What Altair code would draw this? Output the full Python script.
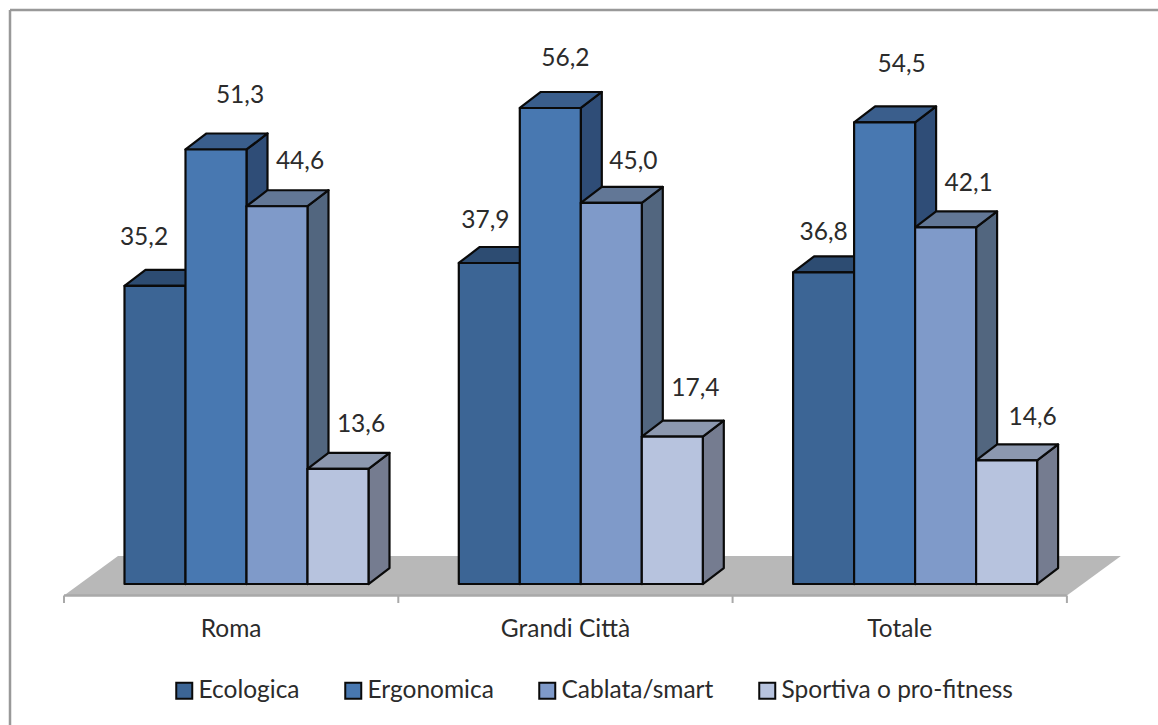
import altair as alt
import pandas as pd

# Survey shares by area, one list per bike type
categories = ["Roma", "Grandi Città", "Totale"]
series = ["Ecologica", "Ergonomica", "Cablata/smart", "Sportiva o pro-fitness"]
ecologica = [35.2, 37.9, 36.8]
ergonomica = [51.3, 56.2, 54.5]
cablata = [44.6, 45.0, 42.1]
sportiva = [13.6, 17.4, 14.6]
values = [ecologica, ergonomica, cablata, sportiva]

# Face colours for each series
front_colors = ["#3c6595", "#4878b1", "#7f9ac9", "#b7c3de"]
top_colors = ["#2d4c72", "#3a5e8c", "#627796", "#8c98af"]
side_colors = ["#2a4668", "#2f4d77", "#52667f", "#757c90"]

# Pixel scale of the drawing
PX_PER_GROUP = 334.3
PX_PER_UNIT = 8.47
LEFT_PX = 64.0
BASE_PX = 584.0
WIDTH = 1158
PLOT_H = 597

BAR_START = 60.5 / PX_PER_GROUP
BAR_W = 61.0 / PX_PER_GROUP
DEPTH_X = 21.0 / PX_PER_GROUP
DEPTH_Y = 16.0 / PX_PER_UNIT
FLOOR_FRONT = (BASE_PX - 595.5) / PX_PER_UNIT
FLOOR_BACK = (BASE_PX - 556.0) / PX_PER_UNIT
FLOOR_SHIFT = 54.0 / PX_PER_GROUP
TICK_END = (BASE_PX - 603.0) / PX_PER_UNIT
CATEGORY_ROW = (BASE_PX - 629.5) / PX_PER_UNIT

# Hand-placed data labels: offset from the bar's top centre, in pixels
label_dx = [[-11, -4, 0], [24, 15, 17], [23, 22, 23], [23, 23, 26]]
label_dy = [[-48, -42, -39], [-53, -49, -57], [-44, -41, -43], [-44, -48, -42]]

x_scale = alt.Scale(
    domain=[-LEFT_PX / PX_PER_GROUP, (WIDTH - LEFT_PX) / PX_PER_GROUP],
    range=[0, WIDTH], nice=False, zero=False,
)
y_scale = alt.Scale(
    domain=[(BASE_PX - PLOT_H) / PX_PER_UNIT, BASE_PX / PX_PER_UNIT],
    range=[PLOT_H, 0], nice=False, zero=False,
)
FONT = "Lato"
FONT_SIZE = 24.5
TEXT_COLOR = "#2b2b2b"
GRAY_LINE = "#a9a9a9"


def X(field, **kw):
    return alt.X(field, type="quantitative", scale=x_scale, axis=None, **kw)


def Y(field):
    return alt.Y(field, type="quantitative", scale=y_scale, axis=None, stack=None)


# Floor slab
floor = pd.DataFrame({
    "y": [FLOOR_FRONT, FLOOR_BACK],
    "x": [0, FLOOR_SHIFT],
    "x2": [3, 3 + FLOOR_SHIFT],
})
floor_layer = alt.Chart(floor).mark_area(orient="horizontal", color="#b8b8b8").encode(
    x=X("x"), x2="x2:Q", y=Y("y"),
)

# Axis line, ticks and category names
baseline_layer = alt.Chart(pd.DataFrame({"x": [0], "x2": [3], "y": [FLOOR_FRONT]})).mark_rule(
    color=GRAY_LINE, strokeWidth=2.5
).encode(x=X("x"), x2="x2:Q", y=Y("y"))
ticks_layer = alt.Chart(pd.DataFrame({"x": [0, 1, 2, 3], "a": FLOOR_FRONT, "b": TICK_END})).mark_rule(
    color=GRAY_LINE, strokeWidth=2
).encode(x=X("x"), y=Y("a"), y2="b:Q")
category_layer = alt.Chart(pd.DataFrame({
    "x": [0.5, 1.5, 2.5], "y": CATEGORY_ROW, "name": categories,
})).mark_text(
    font=FONT, fontSize=FONT_SIZE, color=TEXT_COLOR, align="center", baseline="middle"
).encode(x=X("x"), y=Y("y"), text="name:N")

# Bars are painted series by series so each front covers its left neighbour's side
bar_layers = []
color_scale = alt.Scale(domain=series, range=front_colors)
for s, name in enumerate(series):
    side_rows, top_rows, front_rows = [], [], []
    for g, cat in enumerate(categories):
        v = values[s][g]
        x0 = g + BAR_START + s * BAR_W
        x1 = x0 + BAR_W
        front_rows.append({"series": name, "x": x0, "x2": x1, "y": 0, "y2": v})
        for k in (0, 1):
            side_rows.append({"g": cat, "x": x1 + k * DEPTH_X, "y": v + k * DEPTH_Y, "y2": k * DEPTH_Y})
            top_rows.append({"g": cat, "y": v + k * DEPTH_Y, "x": x0 + k * DEPTH_X, "x2": x1 + k * DEPTH_X})
    edge = dict(stroke="#0a0a0a", strokeWidth=2.2, strokeJoin="round")
    bar_layers.append(
        alt.Chart(pd.DataFrame(side_rows)).mark_area(orient="vertical", fill=side_colors[s], **edge).encode(
            x=X("x"), y=Y("y"), y2="y2:Q", detail="g:N"
        )
    )
    bar_layers.append(
        alt.Chart(pd.DataFrame(top_rows)).mark_area(orient="horizontal", fill=top_colors[s], **edge).encode(
            x=X("x"), x2="x2:Q", y=Y("y"), detail="g:N"
        )
    )
    bar_layers.append(
        alt.Chart(pd.DataFrame(front_rows)).mark_rect(**edge).encode(
            x=X("x"), x2="x2:Q", y=Y("y"), y2="y2:Q",
            fill=alt.Fill("series:N", scale=color_scale, legend=alt.Legend(
                orient="none", legendX=172, legendY=678, direction="horizontal", columns=4,
                title=None, symbolType="square", symbolSize=256, symbolStrokeColor="#0a0a0a",
                symbolStrokeWidth=2, labelFont=FONT, labelFontSize=FONT_SIZE, labelColor=TEXT_COLOR,
                labelOffset=2, columnPadding=41, labelLimit=400,
            )),
        )
    )

# Value labels, in Italian decimal notation
label_rows = []
for s in range(len(series)):
    for g in range(len(categories)):
        v = values[s][g]
        label_rows.append({
            "text": f"{v:.1f}".replace(".", ","),
            "x": g + BAR_START + (s + 0.5) * BAR_W + label_dx[s][g] / PX_PER_GROUP,
            "y": v - label_dy[s][g] / PX_PER_UNIT,
        })
label_layer = alt.Chart(pd.DataFrame(label_rows)).mark_text(
    font=FONT, fontSize=FONT_SIZE, color=TEXT_COLOR, align="center", baseline="middle"
).encode(x=X("x"), y=Y("y"), text="text:N")

# Chart frame: grey rule along the top and left edges
frame_top = alt.Chart(pd.DataFrame({"a": [0]})).mark_rule(color="#999999", strokeWidth=2.5).encode(
    x=alt.value(10), x2=alt.value(WIDTH), y=alt.value(10)
)
frame_left = alt.Chart(pd.DataFrame({"a": [0]})).mark_rule(color="#999999", strokeWidth=2.5).encode(
    x=alt.value(10), y=alt.value(10), y2=alt.value(725)
)

chart = alt.layer(
    frame_top, frame_left, floor_layer, baseline_layer, ticks_layer, category_layer,
    *bar_layers, label_layer,
).properties(
    width=WIDTH, height=PLOT_H,
    padding={"left": 0, "top": 0, "right": 0, "bottom": 725 - PLOT_H},
    autosize=alt.AutoSizeParams(type="none"),
    background="white",
).configure_view(stroke=None)

chart.save("out.html", embed_options={"renderer": "svg", "actions": False})
